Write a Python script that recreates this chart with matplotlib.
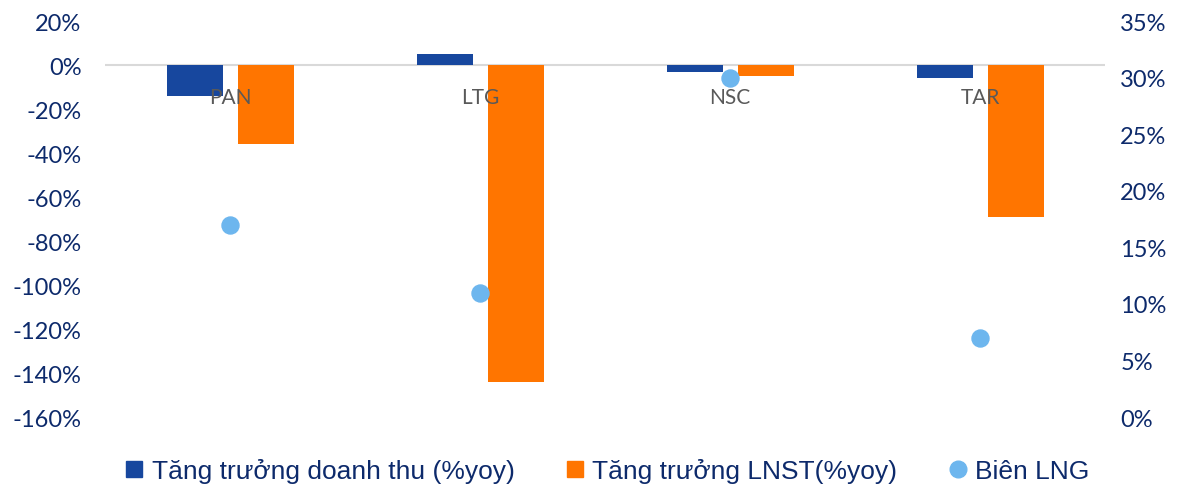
import matplotlib
matplotlib.use("Agg")
import matplotlib.pyplot as plt
import numpy as np
from matplotlib.lines import Line2D
from matplotlib.ticker import FuncFormatter

# Data
categories = ["PAN", "LTG", "NSC", "TAR"]
rev_growth = [-14, 5, -3, -6]        # Tăng trưởng doanh thu (%yoy)
npat_growth = [-36, -144, -5, -69]   # Tăng trưởng LNST (%yoy)
gross_margin = [17, 11, 30, 7]       # Biên LNG (%)

blue = "#17479E"
orange = "#FF7500"
light_blue = "#6DB6EE"
navy = "#0D2A6B"

fig = plt.figure(figsize=(11.8, 4.85), dpi=100)
ax = fig.add_axes([0.089, 0.138, 0.8474, 0.8165])
ax2 = ax.twinx()

x = np.arange(len(categories))
w = 0.224
ax.bar(x - 0.14, rev_growth, w, color=blue, zorder=2)
ax.bar(x + 0.144, npat_growth, w, color=orange, zorder=2)
ax.axhline(0, color="#D9D9D9", lw=1.5, zorder=1)

# category names sit just under the zero line
for i, c in enumerate(categories):
    ax.text(i, -14.5, c, ha="center", va="center", fontsize=15, color="#595959",
            family="Lato", zorder=5)

ax2.scatter(x, gross_margin, s=150, color=light_blue, zorder=6)

ax.set_xlim(-0.5, 3.5)
ax.set_ylim(-160, 20)
ax.set_yticks(np.arange(-160, 21, 20))
ax.yaxis.set_major_formatter(FuncFormatter(lambda v, p: f"{v:.0f}%"))
ax2.set_ylim(0, 35)
ax2.set_yticks(np.arange(0, 36, 5))
ax2.yaxis.set_major_formatter(FuncFormatter(lambda v, p: f"{v:.0f}%"))
ax.set_xticks([])

for a in (ax, ax2):
    for s in a.spines.values():
        s.set_visible(False)
    a.tick_params(axis="y", length=0, labelsize=17, labelcolor=navy)
for lbl in ax.get_yticklabels() + ax2.get_yticklabels():
    lbl.set_family("Lato")
ax.tick_params(axis="y", pad=17)
ax2.tick_params(axis="y", pad=11)

handles = [
    Line2D([], [], marker="s", ls="", color=blue, markersize=11),
    Line2D([], [], marker="s", ls="", color=orange, markersize=11),
    Line2D([], [], marker="o", ls="", color=light_blue, markersize=12),
]
labels = ["Tăng trưởng doanh thu (%yoy)", "Tăng trưởng LNST(%yoy)", "Biên LNG"]
leg = fig.legend(handles, labels, loc="center", bbox_to_anchor=(0.513, 0.027), ncol=3,
                 frameon=False, handlelength=1.0, handletextpad=0.15, columnspacing=1.8,
                 prop={"family": "Liberation Sans", "size": 19})
for t in leg.get_texts():
    t.set_color(navy)

fig.savefig("out.png", dpi=100)
